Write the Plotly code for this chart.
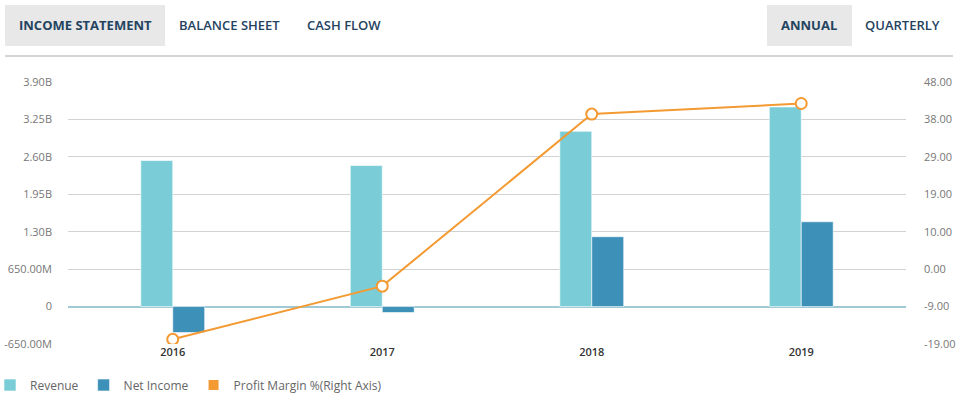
import plotly.graph_objects as go

years = ["2016", "2017", "2018", "2019"]
revenue = [2.536e9, 2.449e9, 3.044e9, 3.467e9]
net_income = [-0.451e9, -0.104e9, 1.213e9, 1.473e9]
profit_margin = [-17.8, -4.2, 39.8, 42.5]

left_tickvals = [-0.65e9, 0, 0.65e9, 1.30e9, 1.95e9, 2.60e9, 3.25e9, 3.90e9]
left_ticktext = ["-650.00M", "0", "650.00M", "1.30B", "1.95B", "2.60B", "3.25B", "3.90B"]
right_min, right_max = -19, 48
right_tickvals = [right_min + i * (right_max - right_min) / 7 for i in range(8)]
right_ticktext = ["-19.00", "-9.00", "0.00", "10.00", "19.00", "29.00", "38.00", "48.00"]

W, H = 964, 395
L, R, T, B = 68, 906, 82, 344
def xp(x): return (x - L) / (R - L)
def yp(y): return (B - y) / (B - T)

FONT = "Open Sans"
ORANGE = "#f39a32"
fig = go.Figure()
fig.add_trace(go.Bar(x=years, y=revenue, name="Revenue",
                     marker=dict(color="#7acdd7", line=dict(color="rgba(255,255,255,0.6)", width=1))))
fig.add_trace(go.Bar(x=years, y=net_income, name="Net Income",
                     marker=dict(color="#3d90b8", line=dict(color="rgba(255,255,255,0.6)", width=1))))
fig.add_trace(go.Scatter(x=years, y=profit_margin, name="Profit Margin %(Right Axis)", yaxis="y2",
                         mode="lines+markers", showlegend=False, legendgroup="pm",
                         line=dict(color=ORANGE, width=2),
                         marker=dict(symbol="circle", size=11, color="white",
                                     line=dict(color=ORANGE, width=2))))
# legend-only entry with a square swatch for the line series
fig.add_trace(go.Scatter(x=[None], y=[None], name="Profit Margin %(Right Axis)", yaxis="y2",
                         mode="markers", legendgroup="pm", showlegend=True,
                         marker=dict(symbol="square", size=10, color=ORANGE)))

shapes = [
    dict(type="rect", xref="paper", yref="paper", x0=xp(5), x1=xp(165), y0=yp(46), y1=yp(5),
         fillcolor="#e8e8e8", line=dict(width=0), layer="below"),
    dict(type="rect", xref="paper", yref="paper", x0=xp(767), x1=xp(852), y0=yp(46), y1=yp(5),
         fillcolor="#e8e8e8", line=dict(width=0), layer="below"),
    dict(type="line", xref="paper", yref="paper", x0=xp(5), x1=xp(953), y0=yp(56), y1=yp(56),
         line=dict(color="#aaaaaa", width=1)),
]
annotations = []
for text, cx, bold in [("INCOME STATEMENT", 85, True), ("BALANCE SHEET", 229, False),
                       ("CASH FLOW", 344, False), ("ANNUAL", 809, True), ("QUARTERLY", 902, False)]:
    annotations.append(dict(text=text, x=xp(cx), y=yp(25), xref="paper", yref="paper",
                            showarrow=False, xanchor="center", yanchor="middle",
                            font=dict(family=FONT, size=13, color="#24435f",
                                      weight=700 if bold else 600)))

fig.update_layout(
    width=W, height=H,
    margin=dict(l=L, r=W - R, t=T, b=H - B, pad=0, autoexpand=False),
    paper_bgcolor="white", plot_bgcolor="white",
    font=dict(family=FONT, size=11, color="#777777"),
    barmode="group", bargap=0.695, bargroupgap=0,
    showlegend=True,
    legend=dict(orientation="h", x=xp(-10), xanchor="left", y=yp(385), yanchor="middle",
                font=dict(family=FONT, size=12, color="#666666"), itemwidth=30,
                traceorder="normal", bgcolor="rgba(0,0,0,0)"),
    xaxis=dict(showgrid=False, showline=False, ticks="", zeroline=False,
               tickfont=dict(family=FONT, size=11, color="#333333", weight=600)),
    yaxis=dict(range=[-0.65e9, 3.90e9], tickvals=left_tickvals, ticktext=left_ticktext,
               showgrid=True, gridcolor="#d2d2d2", gridwidth=1,
               zeroline=True, zerolinecolor="#9ec9d5", zerolinewidth=1.5,
               showline=False, ticks="", ticklabelstandoff=15,
               tickfont=dict(family=FONT, size=11, color="#777777")),
    yaxis2=dict(range=[right_min, right_max], tickvals=right_tickvals, ticktext=right_ticktext,
                overlaying="y", side="right", showgrid=False, zeroline=False, showline=False,
                ticks="", ticklabelstandoff=17,
                tickfont=dict(family=FONT, size=11, color="#777777")),
    shapes=shapes, annotations=annotations,
)
fig.write_html("out.html", config={"displayModeBar": False},
               post_script="document.body.style.margin='0';document.body.style.overflow='hidden';")
